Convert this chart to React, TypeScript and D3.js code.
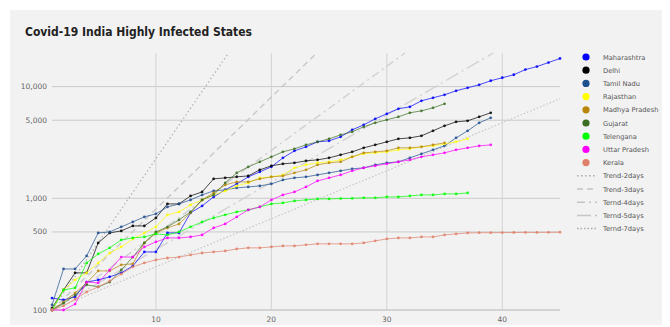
import React from "react";
import * as d3 from "d3";

// cumulative confirmed cases, day 1 = first day over ~100 cases
const maharashtra = [128, 123, 131, 178, 186, 198, 215, 248, 331, 331, 490, 490, 741, 855, 1030, 1190, 1346, 1556, 1725, 1913, 2303, 2661, 2889, 3203, 3270, 3552, 4104, 4550, 5149, 5709, 6330, 6597, 7466, 7943, 8450, 9178, 9765, 10387, 11283, 12008, 12775, 14210, 15120, 16432, 17855];
const delhi = [104, 151, 215, 215, 399, 490, 511, 566, 566, 668, 891, 891, 1050, 1141, 1493, 1524, 1556, 1588, 1798, 1953, 2035, 2078, 2165, 2210, 2303, 2450, 2606, 2830, 3011, 3203, 3408, 3479, 3626, 4020, 4457, 4840, 4941, 5366, 5828];
const tamilNadu = [111, 233, 233, 305, 490, 500, 555, 615, 682, 726, 837, 891, 968, 1073, 1165, 1190, 1240, 1265, 1292, 1346, 1462, 1524, 1556, 1621, 1690, 1761, 1836, 1874, 1994, 2078, 2121, 2303, 2501, 2716, 2950, 3479, 4020, 4741, 5256];
const rajasthan = [100, 151, 186, 215, 264, 324, 367, 433, 490, 555, 711, 756, 873, 968, 1073, 1165, 1292, 1374, 1524, 1556, 1621, 1874, 1994, 2078, 2121, 2210, 2351, 2501, 2553, 2606, 2716, 2773, 2889, 2950, 3074, 3203, 3408];
const madhyaPradesh = [100, 118, 142, 175, 224, 224, 254, 259, 399, 490, 543, 590, 741, 968, 1118, 1319, 1403, 1403, 1493, 1556, 1588, 1690, 1798, 1994, 2078, 2121, 2351, 2553, 2606, 2661, 2830, 2830, 2889, 3011, 3138];
const gujarat = [100, 115, 136, 168, 161, 178, 228, 298, 399, 500, 555, 641, 756, 968, 1073, 1374, 1690, 1913, 2121, 2351, 2606, 2773, 3011, 3203, 3408, 3701, 3938, 4366, 4741, 5044, 5366, 5828, 6073, 6460, 7018];
const telengana = [100, 151, 158, 264, 318, 360, 424, 442, 451, 480, 470, 500, 555, 615, 668, 711, 756, 787, 837, 891, 909, 948, 968, 988, 988, 995, 999, 1010, 1010, 1030, 1030, 1050, 1073, 1073, 1095, 1095, 1118];
const uttarPradesh = [100, 100, 113, 178, 175, 228, 298, 298, 367, 407, 442, 442, 451, 470, 543, 590, 682, 787, 837, 968, 1073, 1141, 1265, 1432, 1524, 1621, 1761, 1874, 1953, 2035, 2121, 2210, 2351, 2450, 2553, 2716, 2830, 2950, 3011];
const kerala = [100, 109, 125, 145, 161, 182, 210, 243, 264, 281, 292, 298, 311, 324, 331, 338, 352, 360, 360, 367, 375, 375, 383, 391, 391, 391, 391, 399, 416, 433, 442, 442, 451, 451, 470, 480, 490, 492, 492, 493, 494, 495, 495, 496, 497];

const stateNames = ["Maharashtra", "Delhi", "Tamil Nadu", "Rajasthan", "Madhya Pradesh", "Gujarat", "Telengana", "Uttar Pradesh", "Kerala"];
const stateValues = [maharashtra, delhi, tamilNadu, rajasthan, madhyaPradesh, gujarat, telengana, uttarPradesh, kerala];
const stateColors = ["#0000ff", "#000000", "#1f4e8f", "#ffff00", "#b8860b", "#3c6e22", "#00ff00", "#ff00ff", "#e0806a"];

const trendNames = ["Trend-2days", "Trend-3days", "Ternd-4days", "Ternd-5days", "Ternd-7days"];
const trendDoubling = [2, 3, 4, 5, 7];
const trendDash = ["1.5,2.5", "6,4", "8,4,2,4", "14,4,2,4", "1.5,2"];
const trendColor = ["#b0b0b0", "#c8c8c8", "#d0d0d0", "#d2d2d2", "#c6c6c6"];

const yTicks = [100, 500, 1000, 5000, 10000];
const xTicks = [10, 20, 30, 40];

const W = 670;
const H = 327;
const plot = { left: 52, right: 560, top: 53, bottom: 310 };

export default function App() {
  const x = d3.scaleLinear().domain([1, 45]).range([plot.left, plot.right]);
  const y = d3.scaleLog().domain([100, 20000]).range([plot.bottom, plot.top]);
  const line = d3
    .line<number>()
    .x((_, i) => x(i + 1))
    .y((d) => y(d));

  const trendEnd = (n: number) => {
    // where a series doubling every n days from 100 reaches the top or the last day
    const top = 1 + n * Math.log2(20000 / 100);
    const d = Math.min(45, top);
    return [d, 100 * Math.pow(2, (d - 1) / n)];
  };

  const fmt = d3.format(",");
  const legX = 586;
  const legY0 = 57;
  const legStep = 13.2;

  return (
    <div style={{ position: "fixed", left: 0, top: 0 }}>
      <svg width={W} height={H} style={{ display: "block" }} fontFamily="DejaVu Sans, Verdana, sans-serif">
        <rect x={0} y={0} width={W} height={H} fill="#ffffff" />
        <rect x={10} y={10} width={652} height={315} fill="#f2f2f2" />
        <text x={25} y={36} fontSize={12} fontWeight="bold" fill="#222" textLength={227} lengthAdjust="spacingAndGlyphs">
          Covid-19 India Highly Infected States
        </text>

        {/* grid */}
        {yTicks.map((t) => (
          <g key={"y" + t}>
            <line x1={plot.left} x2={plot.right} y1={y(t)} y2={y(t)} stroke="#cacaca" strokeWidth={1} />
            <text x={47} y={y(t) + 2.5} fontSize={7.5} fill="#666" textAnchor="end">
              {fmt(t)}
            </text>
          </g>
        ))}
        {xTicks.map((t) => (
          <g key={"x" + t}>
            <line x1={x(t)} x2={x(t)} y1={plot.top} y2={plot.bottom} stroke="#d2d2d2" strokeWidth={1} />
            <text x={x(t)} y={322} fontSize={7.5} fill="#666" textAnchor="middle">
              {t}
            </text>
          </g>
        ))}
        <line x1={plot.left} x2={plot.right} y1={plot.bottom} y2={plot.bottom} stroke="#c8c8c8" />

        {/* trend lines */}
        {trendDoubling.map((n, i) => {
          const [d, v] = trendEnd(n);
          return (
            <line
              key={trendNames[i]}
              x1={x(1)}
              y1={y(100)}
              x2={x(d)}
              y2={y(v)}
              stroke={trendColor[i]}
              strokeWidth={i === 0 || i === 4 ? 1.2 : 1.4}
              strokeDasharray={trendDash[i]}
            />
          );
        })}

        {/* states */}
        {stateValues.map((vals, i) => (
          <g key={stateNames[i]}>
            <path d={line(vals) || ""} fill="none" stroke={stateColors[i]} strokeWidth={1} strokeOpacity={0.7} />
            {vals.map((v, j) => (
              <circle key={j} cx={x(j + 1)} cy={y(v)} r={1.4} fill={stateColors[i]} fillOpacity={0.85} />
            ))}
          </g>
        ))}

        {/* legend */}
        {stateNames.map((name, i) => (
          <g key={"leg" + name}>
            <circle cx={legX} cy={legY0 + i * legStep} r={3.6} fill={stateColors[i]} />
            <text x={603} y={legY0 + i * legStep + 2.5} fontSize={6.7} fill="#555">
              {name}
            </text>
          </g>
        ))}
        {trendNames.map((name, i) => {
          const cy = legY0 + (stateNames.length + i) * legStep;
          return (
            <g key={"leg" + name}>
              <line x1={577} x2={597} y1={cy} y2={cy} stroke={i === 0 || i === 4 ? "#aaa" : "#c4c4c4"} strokeWidth={1.5} strokeDasharray={trendDash[i]} />
              <text x={603} y={cy + 2.5} fontSize={6.7} fill="#555">
                {name}
              </text>
            </g>
          );
        })}
      </svg>
    </div>
  );
}
